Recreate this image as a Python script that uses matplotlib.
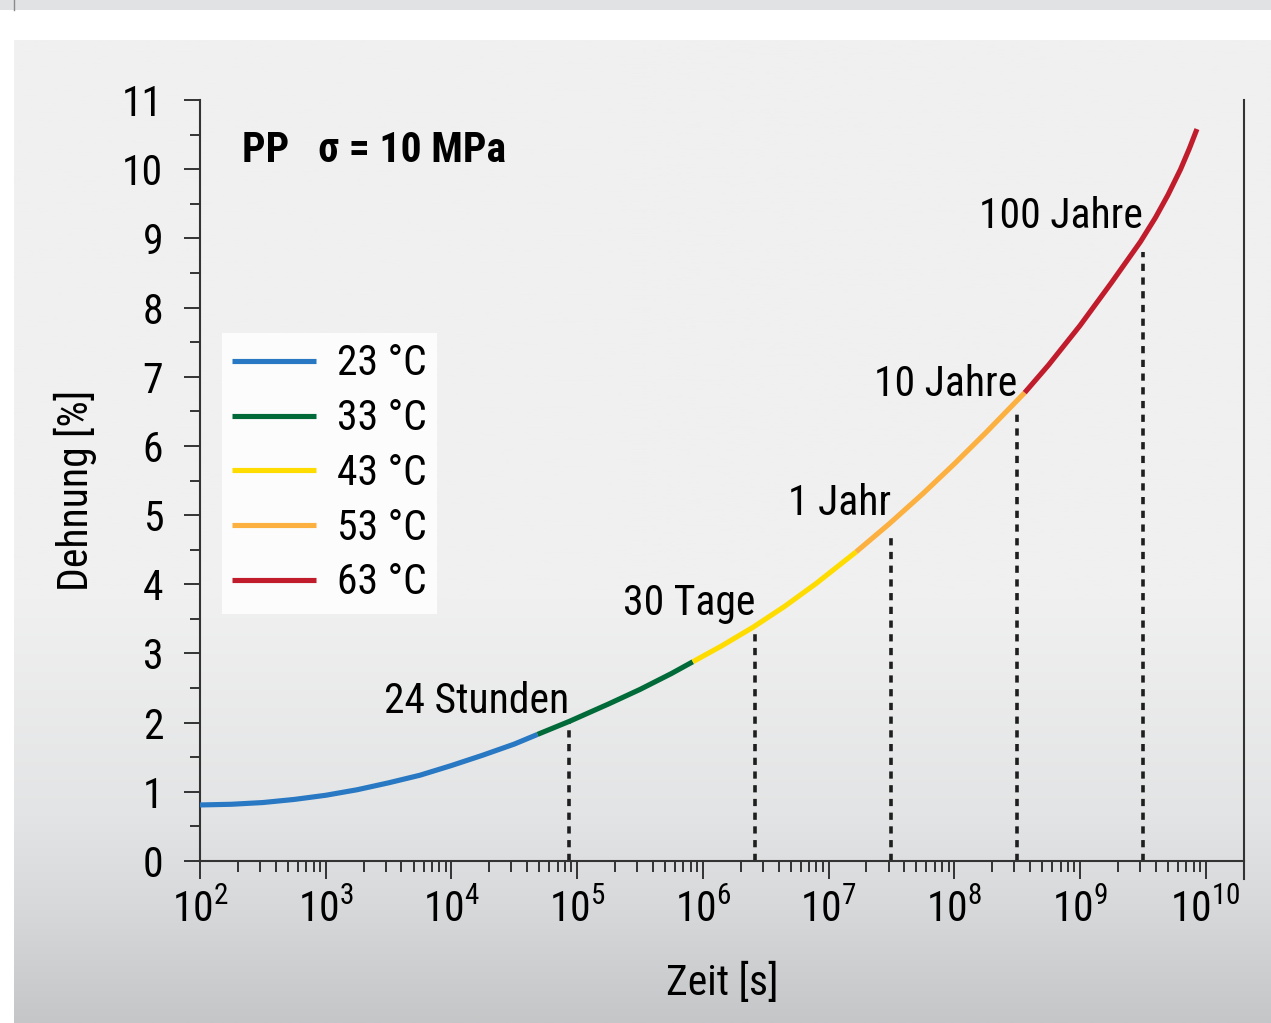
import numpy as np
import matplotlib
matplotlib.use("Agg")
import matplotlib.pyplot as plt
from matplotlib.patches import Rectangle
from matplotlib.lines import Line2D
from matplotlib.colors import to_rgb
from matplotlib.ticker import LogLocator, MultipleLocator, NullFormatter

plt.rcParams['font.family'] = ['Roboto Condensed', 'Roboto', 'DejaVu Sans']
plt.rcParams['font.stretch'] = 'condensed'

### data (log10 of time in s, strain in %)
seg_labels = ['23 °C', '33 °C', '43 °C', '53 °C', '63 °C']
seg_colors = ['#2878c3', '#006b38', '#ffdc00', '#fbb040', '#c01c2c']

log_t_23 = [2.00, 2.25, 2.50, 2.75, 3.00, 3.25, 3.50, 3.75, 4.00, 4.25, 4.50, 4.685]
eps_23 = [0.81, 0.82, 0.845, 0.89, 0.95, 1.03, 1.13, 1.24, 1.38, 1.53, 1.69, 1.83]
log_t_33 = [4.685, 4.94, 5.25, 5.50, 5.75, 5.92]
eps_33 = [1.83, 2.02, 2.27, 2.48, 2.71, 2.88]
log_t_43 = [5.92, 6.15, 6.40, 6.65, 6.90, 7.22]
eps_43 = [2.88, 3.11, 3.38, 3.68, 4.01, 4.47]
log_t_53 = [7.22, 7.48, 7.75, 8.00, 8.25, 8.48, 8.56]
eps_53 = [4.47, 4.87, 5.31, 5.74, 6.19, 6.62, 6.77]
log_t_63 = [8.56, 8.75, 9.00, 9.25, 9.48, 9.60, 9.70, 9.80, 9.87, 9.93]
eps_63 = [6.77, 7.17, 7.74, 8.36, 8.95, 9.30, 9.63, 10.00, 10.30, 10.58]

segments = [(log_t_23, eps_23), (log_t_33, eps_33), (log_t_43, eps_43),
            (log_t_53, eps_53), (log_t_63, eps_63)]

# time markers
mark_labels = ['24 Stunden', '30 Tage', '1 Jahr', '10 Jahre', '100 Jahre']
mark_t = [86400, 2592000, 3.1536e7, 3.1536e8, 3.1536e9]
mark_top = [2.0, 3.35, 4.75, 6.52, 8.8]
mark_text_y = [2.14, 3.55, 5.0, 6.72, 9.15]

W, H = 1271, 1023
fig = plt.figure(figsize=(W / 100, H / 100), dpi=100)
fig.patch.set_facecolor('white')

## background: gray strip on top, panel with gradient at the bottom
fig.patches.append(Rectangle((0, 1 - 10 / H), 1, 10 / H, transform=fig.transFigure,
                             facecolor='#e1e2e4', edgecolor='none', zorder=-5))
fig.add_artist(Line2D([14 / W, 14 / W], [1 - 10 / H, 1], transform=fig.transFigure,
                      color='#8a8a8a', lw=1))
bg = fig.add_axes([14 / W, 0, 1 - 14 / W, (H - 40) / H], zorder=-10)
bg.axis('off')
stops = [0.0, 0.57, 0.79, 0.88, 1.0]
stop_cols = np.array([to_rgb(c) for c in ['#f0f0f0', '#f0f0f0', '#e3e4e5', '#d8d9db', '#c4c6c8']])
rows = np.linspace(0, 1, 400)
grad = np.stack([np.interp(rows, stops, stop_cols[:, i]) for i in range(3)], axis=1)
bg.imshow(grad[:, None, :], aspect='auto', extent=[0, 1, 0, 1])

## main axes
ax = fig.add_axes([200 / W, 1 - 861 / H, (1243.6 - 200) / W, (861 - 100) / H])
ax.set_facecolor('none')
ax.set_xscale('log')
ax.set_xlim(1e2, 2e10)
ax.set_ylim(0, 11)

for (lt, ep), col, lab in zip(segments, seg_colors, seg_labels):
    ax.plot(10 ** np.array(lt), ep, color=col, lw=3.7, label=lab,
            solid_capstyle='butt', solid_joinstyle='round', zorder=3)

for t, top, lab, ty in zip(mark_t, mark_top, mark_labels, mark_text_y):
    ax.plot([t, t], [0, top], color='#1e1e1e', lw=2.6, dashes=(2.0, 1.8), zorder=2)
    ax.text(t, ty, lab, ha='right', va='baseline', fontsize=30, color='black')

# axis styling
for s in ['left', 'bottom', 'right']:
    ax.spines[s].set_color('#333333')
    ax.spines[s].set_linewidth(1.5)
ax.spines['top'].set_visible(False)
ax.spines['right'].set_bounds(-0.26, 11)

ax.yaxis.set_major_locator(MultipleLocator(1))
ax.yaxis.set_minor_locator(MultipleLocator(0.5))
ax.xaxis.set_major_locator(LogLocator(base=10, numticks=20))
ax.xaxis.set_minor_locator(LogLocator(base=10, subs=np.arange(2, 10), numticks=20))
ax.xaxis.set_minor_formatter(NullFormatter())
ax.tick_params(axis='y', which='major', direction='out', length=11.5, width=1.4,
               color='#333333', labelsize=30, pad=15)
ax.tick_params(axis='y', which='minor', direction='out', length=7.2, width=1.4, color='#333333')
ax.tick_params(axis='x', which='major', direction='out', length=13, width=1.4,
               color='#333333', labelsize=30, pad=8)
ax.tick_params(axis='x', which='minor', direction='out', length=8, width=1.4, color='#333333')

leg = ax.legend(loc='upper left', bbox_to_anchor=((222 - 200) / 1043.6, (861 - 333) / 761),
                borderaxespad=0, fontsize=30, handlelength=2.0, handletextpad=0.5,
                labelspacing=0.33, borderpad=0.25, frameon=True, fancybox=False)
leg.get_frame().set_facecolor('#fcfcfc')
leg.get_frame().set_edgecolor('none')
leg.get_frame().set_alpha(1)

fig.text(242 / W, 1 - 150 / H, 'PP   σ = 10 MPa', fontsize=30, fontweight='bold',
         ha='left', va='center')
fig.text(75 / W, 1 - 490 / H, 'Dehnung [%]', fontsize=30, rotation=90,
         ha='center', va='center')
fig.text(722 / W, 1 - 983 / H, 'Zeit [s]', fontsize=30, ha='center', va='center')

fig.savefig('out.png', dpi=100)
